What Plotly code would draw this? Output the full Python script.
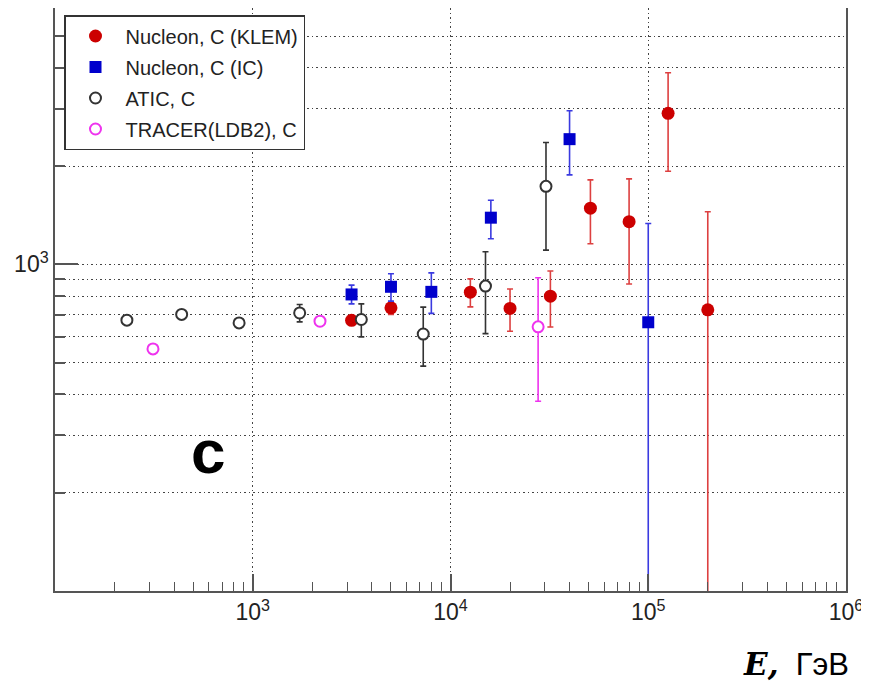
import numpy as np
import plotly.graph_objects as go

# ---- data ----
klem_E = [3.16e3, 5.0e3, 1.26e4, 2.0e4, 3.2e4, 5.1e4, 8.0e4, 1.26e5, 2.0e5]
klem_F = [674, 736, 822, 733, 799, 1486, 1351, 2901, 726]
klem_hi = [690, 766, 903, 841, 954, 1814, 1828, 3860, 1450]
klem_lo = [660, 703, 741, 624, 643, 1157, 871, 1928, 1]

ic_E = [3.16e3, 5.0e3, 8.0e3, 1.6e4, 4.0e4, 1.0e5]
ic_F = [809, 854, 824, 1390, 2418, 665]
ic_hi = [864, 936, 942, 1571, 2953, 1334]
ic_lo = [757, 772, 708, 1198, 1880, 1]

atic_E = [231, 437, 853, 1727, 3540, 7280, 15030, 30400]
atic_F = [675, 703, 662, 710, 678, 612, 858, 1734]
atic_hi = [675, 715, 670, 754, 757, 740, 1093, 2361]
atic_lo = [675, 692, 655, 667, 600, 488, 614, 1106]

tracer_E = [313, 2188, 27740]
tracer_F = [551, 670, 644]
tracer_hi = [551, 670, 910]
tracer_lo = [551, 670, 381]

names = ["Nucleon, C (KLEM)", "Nucleon, C (IC)", "ATIC, C", "TRACER(LDB2), C"]

x_major = [1e3, 1e4, 1e5, 1e6]
x_major_text = ["10<sup>3</sup>", "10<sup>4</sup>", "10<sup>5</sup>", "10<sup>6</sup>"]
y_major = [1e3]
y_major_text = ["10<sup>3</sup>"]
y_minor = [200, 300, 400, 500, 600, 700, 800, 900, 2000, 3000, 4000, 5000]
x_minor = [m * 10 ** d for d in (2, 3, 4, 5) for m in range(2, 10)]


def errs(F, hi, lo):
    plus = [h - f for f, h in zip(F, hi)]
    minus = [f - l for f, l in zip(F, lo)]
    return plus, minus


fig = go.Figure()

series = [
    (klem_E, klem_F, klem_hi, klem_lo, names[0],
     dict(symbol="circle", size=13, color="#cc0000"), "#dd4040"),
    (ic_E, ic_F, ic_hi, ic_lo, names[1],
     dict(symbol="square", size=12, color="#0000cc"), "#3a3ae0"),
    (atic_E, atic_F, atic_hi, atic_lo, names[2],
     dict(symbol="circle", size=11, color="white", line=dict(width=2, color="#333333")), "#333333"),
    (tracer_E, tracer_F, tracer_hi, tracer_lo, names[3],
     dict(symbol="circle", size=11, color="white", line=dict(width=2, color="#ee33ee")), "#ee33ee"),
]

for i, (E, F, hi, lo, nm, mk, ec) in enumerate(series):
    plus, minus = errs(F, hi, lo)
    fig.add_trace(go.Scatter(
        x=E, y=F, mode="markers", name=nm, marker=mk, legendgroup=str(i),
        error_y=dict(type="data", symmetric=False, array=plus, arrayminus=minus,
                     color=ec, thickness=1.6, width=3),
    ))

GRID = dict(gridcolor="#444444", griddash="1.5px,3px", gridwidth=1.3)

axis_common = dict(
    showline=True, linecolor="#555555", linewidth=1.5, mirror=True,
    ticks="inside", tickcolor="#555555", tickwidth=1.5,
    tickfont=dict(family="Liberation Sans", size=23, color="#222222"),
    zeroline=False,
)

fig.update_xaxes(
    type="log", range=[2, 6],
    tickmode="array", tickvals=x_major, ticktext=x_major_text, ticklen=17,
    showgrid=True, **GRID,
    minor=dict(tickmode="array", tickvals=x_minor, ticklen=9, ticks="inside",
               tickcolor="#555555", tickwidth=1.2, showgrid=False),
    **axis_common,
)
fig.update_yaxes(
    type="log", range=[2, 3.785],
    tickmode="array", tickvals=y_major, ticktext=y_major_text, ticklen=23,
    showgrid=True, **GRID,
    minor=dict(tickmode="array", tickvals=y_minor, ticklen=10, ticks="inside",
               tickcolor="#555555", tickwidth=1.5, showgrid=True, **GRID),
    **axis_common,
)

# page has an 8px body margin; figure is placed at (8, 8)
OFF = 8
W, H = 869 - OFF, 683 - OFF
ML, MR, MT, MB = 55 - OFF, 23, 8 - OFF, 92
pw, ph = W - ML - MR, H - MT - MB


def px(xp):
    return (xp - OFF - ML) / pw


def py(yp):
    return (H - MB - (yp - OFF)) / ph


fig.add_annotation(
    x=px(208), y=py(451), xref="paper", yref="paper", text="<b>c</b>",
    showarrow=False, font=dict(family="Liberation Sans", size=62, color="black"),
    xanchor="center", yanchor="middle",
)
fig.add_annotation(
    x=px(851), y=py(664), xref="paper", yref="paper",
    text='<span style="font-family:DejaVu Serif"><b><i>E,</i></b></span> &nbsp;ГэВ',
    showarrow=False, font=dict(family="Liberation Sans", size=31, color="black"),
    xanchor="right", yanchor="middle",
)

fig.update_layout(
    width=W, height=H,
    margin=dict(l=ML, r=MR, t=MT, b=MB, autoexpand=False),
    paper_bgcolor="white", plot_bgcolor="white",
    showlegend=True,
    legend=dict(
        x=px(64), y=py(15), xanchor="left", yanchor="top",
        bgcolor="white", bordercolor="#333333", borderwidth=1.5,
        font=dict(family="Liberation Sans", size=20, color="#222222"),
        traceorder="grouped", tracegroupgap=2, itemwidth=50,
    ),
)

fig.write_html("out.html")
